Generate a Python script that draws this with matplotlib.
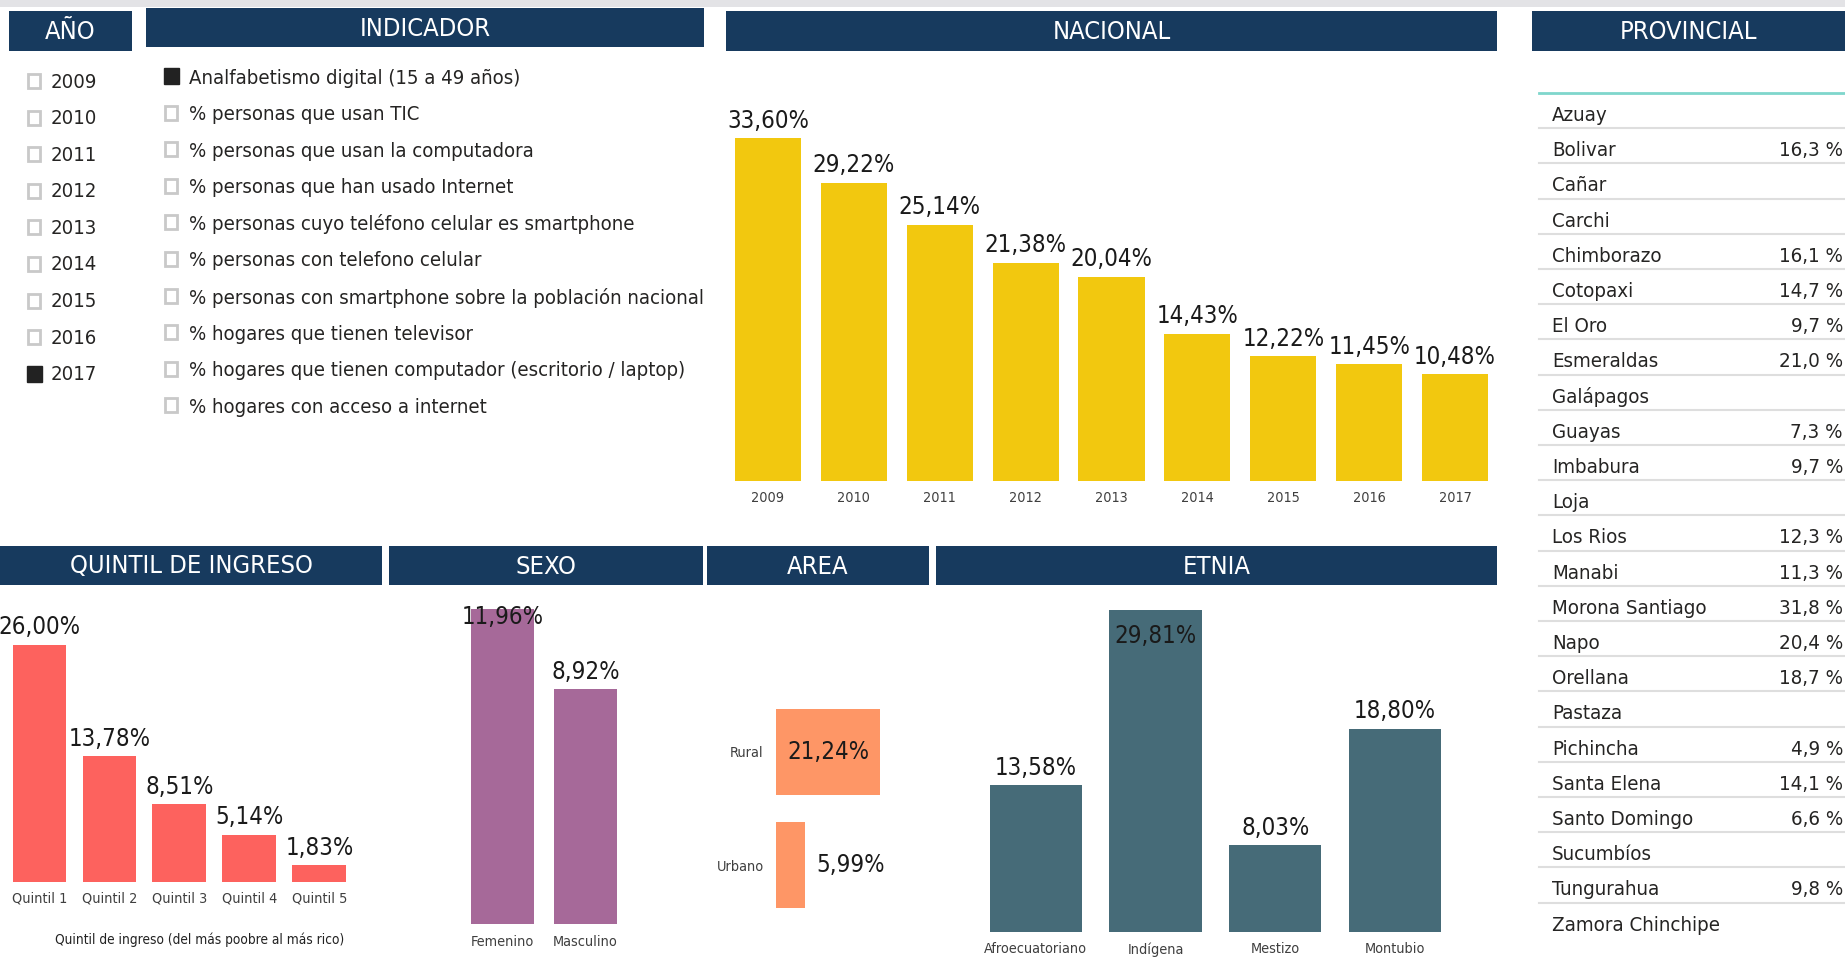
import matplotlib
matplotlib.use('Agg')
import matplotlib.pyplot as plt
import matplotlib.patches as patches
from matplotlib import font_manager

# ---------------------------------------------------------
# Data
# ---------------------------------------------------------
anios = ['2009', '2010', '2011', '2012', '2013', '2014', '2015', '2016', '2017']
anio_sel = '2017'

indicadores = [
    'Analfabetismo digital (15 a 49 años)',
    '% personas que usan TIC',
    '% personas que usan la computadora',
    '% personas que han usado Internet',
    '% personas cuyo teléfono celular es smartphone',
    '% personas con telefono celular',
    '% personas con smartphone sobre la población nacional',
    '% hogares que tienen televisor',
    '% hogares que tienen computador (escritorio / laptop)',
    '% hogares con acceso a internet',
]
indicador_sel = 'Analfabetismo digital (15 a 49 años)'

nacional_vals = [33.60, 29.22, 25.14, 21.38, 20.04, 14.43, 12.22, 11.45, 10.48]

quintiles = ['Quintil 1', 'Quintil 2', 'Quintil 3', 'Quintil 4', 'Quintil 5']
quintil_vals = [26.00, 13.78, 8.51, 5.14, 1.83]

sexos = ['Femenino', 'Masculino']
sexo_vals = [11.96, 8.92]

areas = ['Rural', 'Urbano']
area_vals = [21.24, 5.99]

etnias = ['Afroecuatoriano', 'Indígena', 'Mestizo', 'Montubio']
etnia_vals = [13.58, 29.81, 8.03, 18.80]

provincias = ['Azuay', 'Bolivar', 'Cañar', 'Carchi', 'Chimborazo', 'Cotopaxi',
              'El Oro', 'Esmeraldas', 'Galápagos', 'Guayas', 'Imbabura', 'Loja',
              'Los Rios', 'Manabi', 'Morona Santiago', 'Napo', 'Orellana',
              'Pastaza', 'Pichincha', 'Santa Elena', 'Santo Domingo',
              'Sucumbíos', 'Tungurahua', 'Zamora Chinchipe']
provincia_vals = [None, 16.3, None, None, 16.1, 14.7, 9.7, 21.0, None, 7.3,
                  9.7, None, 12.3, 11.3, 31.8, 20.4, 18.7, None, 4.9, 14.1,
                  6.6, None, 9.8, None]

# ---------------------------------------------------------
# Fonts: prefer a condensed face, otherwise a narrow-ish sans
# ---------------------------------------------------------
avail = {f.name for f in font_manager.fontManager.ttflist}
cond = [f for f in font_manager.fontManager.ttflist
        if f.style == 'normal' and f.stretch in ('condensed', 'semi-condensed')
        and f.weight in (400, 'normal', 'regular')]
STRETCH = 'normal'
if cond:
    FONT = cond[0].name
    STRETCH = cond[0].stretch
elif 'Roboto' in avail:
    FONT = 'Roboto'
elif 'Liberation Sans' in avail:
    FONT = 'Liberation Sans'
else:
    FONT = 'DejaVu Sans'
plt.rcParams['font.family'] = [FONT, 'DejaVu Sans']
plt.rcParams['font.stretch'] = STRETCH

NAVY = '#173a5e'
YELLOW = '#f2c80f'
RED = '#fd625e'
PURPLE = '#a66999'
ORANGE = '#fe9666'
TEAL = '#466b78'
TXT = '#252423'
TICK = '#3f3f3f'

W, H = 1845, 966
fig = plt.figure(figsize=(W / 100, H / 100), dpi=100, facecolor='white')
renderer = fig.canvas.get_renderer()


def fit(sample, target_px, size):
    # font size that gives the sample text the width it has in the reference
    t = fig.text(0, 0, sample, fontsize=size)
    w = t.get_window_extent(renderer).width
    t.remove()
    return size * min(1.0, target_px / w)


FS_HDR = fit('NACIONAL', 118, 22)
FS_VAL = fit('33,60%', 82, 22)
FS_LIST = fit('% personas con smartphone sobre la población nacional', 515, 18)
FS_TAB = fit('Zamora Chinchipe', 168, 18)
FS_TICK = fit('Afroecuatoriano', 103, 12)
FS_XLAB = fit('Quintil de ingreso (del más poobre al más rico)', 288, 13)

# overlay in pixel coordinates (y down)
base = fig.add_axes([0, 0, 1, 1])
base.set_xlim(0, W)
base.set_ylim(H, 0)
base.set_axis_off()


def fmt2(v):
    return f'{v:.2f}'.replace('.', ',') + '%'


def fmt1(v):
    return f'{v:.1f}'.replace('.', ',') + ' %'


def px_axes(x0, y0, x1, y1):
    ax = fig.add_axes([x0 / W, 1 - y1 / H, (x1 - x0) / W, (y1 - y0) / H])
    ax.set_facecolor('none')
    for s in ax.spines.values():
        s.set_visible(False)
    return ax


def header(x0, y0, x1, y1, title):
    base.add_patch(patches.Rectangle((x0, y0), x1 - x0, y1 - y0,
                                     facecolor=NAVY, edgecolor='none'))
    base.text((x0 + x1) / 2, (y0 + y1) / 2 + 1, title, color='white',
              fontsize=FS_HDR, ha='center', va='center')


def checkbox(x, yc, selected):
    if selected:
        base.add_patch(patches.Rectangle((x, yc - 8), 15, 16,
                                         facecolor='#222222', edgecolor='#222222'))
    else:
        base.add_patch(patches.Rectangle((x + 1, yc - 7), 12, 14, facecolor='white',
                                         edgecolor='#c9c9c9', linewidth=2))


def vbar_chart(ax, cats, vals, color, ymax, tick_pad, inside_pad):
    x = range(len(vals))
    ax.bar(x, vals, width=0.77, color=color)
    ax.set_xlim(-0.5, len(vals) - 0.5)
    ax.set_ylim(0, ymax)
    ax.set_yticks([])
    ax.set_xticks(list(x))
    ax.set_xticklabels(cats, fontsize=FS_TICK, color=TICK)
    ax.tick_params(axis='x', length=0, pad=tick_pad)
    for i, v in enumerate(vals):
        if v >= ymax * 0.97:
            ax.annotate(fmt2(v), (i, ymax), xytext=(0, inside_pad),
                        textcoords='offset points', ha='center', va='top',
                        fontsize=FS_VAL, color='#1a1a1a', annotation_clip=False)
        else:
            ax.annotate(fmt2(v), (i, v), xytext=(0, 4),
                        textcoords='offset points', ha='center', va='bottom',
                        fontsize=FS_VAL, color='#1a1a1a', annotation_clip=False)


# top strip
base.add_patch(patches.Rectangle((0, 0), W, 7, facecolor='#e3e3e6', edgecolor='none'))

# ---------------------------------------------------------
# Headers
# ---------------------------------------------------------
header(9, 11, 132, 51, 'AÑO')
header(146, 8, 704, 47, 'INDICADOR')
header(726, 11, 1497, 51, 'NACIONAL')
header(1532, 11, 1845, 51, 'PROVINCIAL')
header(0, 546, 382, 585, 'QUINTIL DE INGRESO')
header(389, 546, 703, 585, 'SEXO')
header(707, 546, 929, 585, 'AREA')
header(936, 546, 1497, 585, 'ETNIA')

# ---------------------------------------------------------
# Slicers
# ---------------------------------------------------------
for i, a in enumerate(anios):
    yc = 82 + i * 36.6
    checkbox(27, yc - 1, a == anio_sel)
    base.text(51, yc, a, fontsize=FS_LIST, color=TXT, ha='left', va='center')

for i, name in enumerate(indicadores):
    yc = 78 + i * 36.6
    checkbox(164, yc - 2, name == indicador_sel)
    base.text(189, yc, name, fontsize=FS_LIST, color=TXT, ha='left', va='center')

# ---------------------------------------------------------
# Nacional
# ---------------------------------------------------------
ax_nac = px_axes(725, 73, 1498, 481)
vbar_chart(ax_nac, anios, nacional_vals, YELLOW, 40, 7, 0)

# ---------------------------------------------------------
# Quintil
# ---------------------------------------------------------
ax_q = px_axes(4.5, 608, 354.3, 882)
vbar_chart(ax_q, quintiles, quintil_vals, RED, 30, 7, 0)
base.text(200, 940, 'Quintil de ingreso (del más poobre al más rico)',
          fontsize=FS_XLAB, color='#222222', ha='center', va='center')

# ---------------------------------------------------------
# Sexo
# ---------------------------------------------------------
ax_s = px_axes(461, 609, 627, 924)
vbar_chart(ax_s, sexos, sexo_vals, PURPLE, max(sexo_vals), 8, 3)

# ---------------------------------------------------------
# Area (horizontal)
# ---------------------------------------------------------
ax_a = px_axes(776, 695, 880.3, 922)
ax_a.barh(range(len(areas)), area_vals, height=0.76, color=ORANGE)
amax = max(area_vals)
ax_a.set_xlim(0, amax)
ax_a.set_ylim(len(areas) - 0.5, -0.5)
ax_a.set_xticks([])
ax_a.set_yticks(range(len(areas)))
ax_a.set_yticklabels(areas, fontsize=FS_TICK, color=TICK)
ax_a.tick_params(axis='y', length=0, pad=9)
for i, v in enumerate(area_vals):
    if v > amax * 0.6:
        ax_a.text(v / 2, i, fmt2(v), ha='center', va='center',
                  fontsize=FS_VAL, color='#1a1a1a')
    else:
        ax_a.annotate(fmt2(v), (v, i), xytext=(8, 0), textcoords='offset points',
                      ha='left', va='center', fontsize=FS_VAL, color='#1a1a1a',
                      annotation_clip=False)

# ---------------------------------------------------------
# Etnia
# ---------------------------------------------------------
ax_e = px_axes(975.8, 610, 1455.1, 932.3)
vbar_chart(ax_e, etnias, etnia_vals, TEAL, max(etnia_vals), 7, -10)

# ---------------------------------------------------------
# Provincial table
# ---------------------------------------------------------
row_h = 35.2
top = 93
base.plot([1539, 1845], [top, top], color='#7fd6cc', linewidth=2)
for i, (p, v) in enumerate(zip(provincias, provincia_vals)):
    y_base = top + i * row_h + 28
    base.text(1552, y_base, p, fontsize=FS_TAB, color=TXT, ha='left', va='baseline')
    if v is not None:
        base.text(1843, y_base, fmt1(v), fontsize=FS_TAB, color=TXT,
                  ha='right', va='baseline')
    if i < len(provincias) - 1:
        yl = top + (i + 1) * row_h
        base.plot([1539, 1845], [yl, yl], color='#dedede', linewidth=1.5)

fig.savefig('out.png', dpi=100, facecolor='white')
